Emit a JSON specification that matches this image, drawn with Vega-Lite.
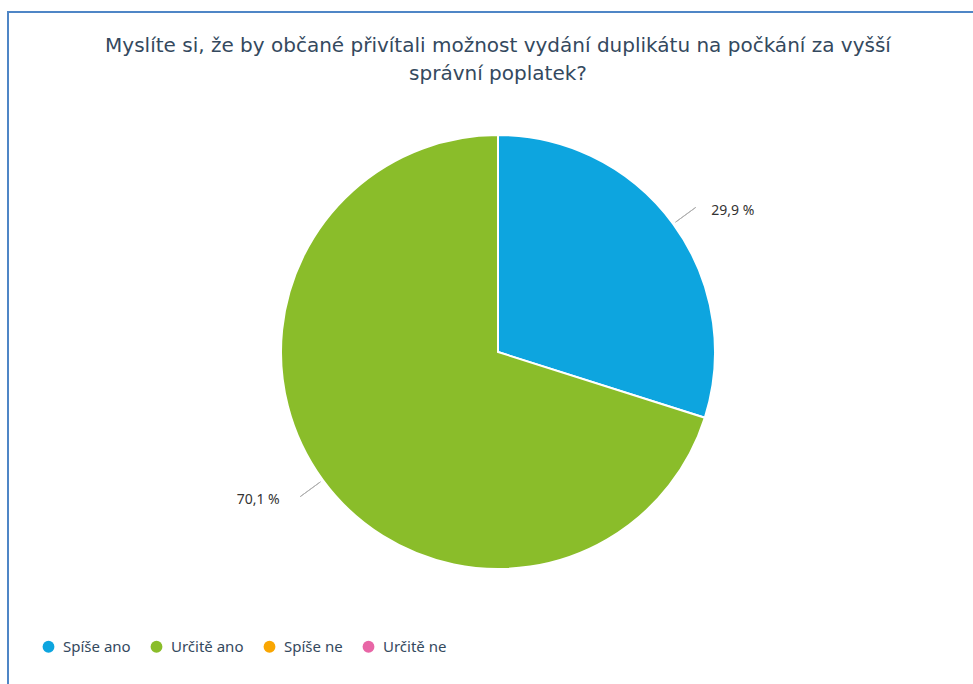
{
  "$schema": "https://vega.github.io/schema/vega-lite/v6.json",
  "autosize": {"type": "none"},
  "padding": {"left": 8, "top": 12, "right": 0, "bottom": 0},
  "width": 980,
  "height": 680,
  "background": "white",
  "view": {"stroke": "#4f86c6", "strokeWidth": 2},
  "config": {
    "font": "DejaVu Sans"
  },
  "title": {
    "text": ["Myslíte si, že by občané přivítali možnost vydání duplikátu na počkání za vyšší", "správní poplatek?"],
    "font": "DejaVu Sans",
    "fontSize": 20,
    "fontWeight": "normal",
    "color": "#34495e",
    "anchor": "middle",
    "baseline": "top",
    "offset": -72,
    "lineHeight": 28
  },
  "data": {
    "values": [
      {"category": "Spíše ano", "value": 29.9},
      {"category": "Určitě ano", "value": 70.1},
      {"category": "Spíše ne", "value": 0},
      {"category": "Určitě ne", "value": 0}
    ]
  },
  "transform": [
    {"window": [{"op": "row_number", "as": "ord"}]},
    {"joinaggregate": [{"op": "sum", "field": "value", "as": "total"}]},
    {"window": [{"op": "sum", "field": "value", "as": "cum"}], "sort": [{"field": "ord"}], "frame": [null, 0]},
    {"calculate": "2*PI*(datum.cum - datum.value/2)/datum.total", "as": "mid"},
    {"calculate": "replace(format(datum.value, '.1f'), '.', ',') + ' %'", "as": "label"}
  ],
  "layer": [
    {
      "mark": {"type": "arc", "stroke": "white", "strokeWidth": 2, "outerRadius": 217},
      "encoding": {
        "theta": {"field": "value", "type": "quantitative", "stack": true},
        "order": {"field": "ord", "type": "quantitative"},
        "color": {
          "field": "category",
          "type": "nominal",
          "scale": {
            "domain": ["Spíše ano", "Určitě ano", "Spíše ne", "Určitě ne"],
            "range": ["#0da5df", "#8abd2a", "#f9a602", "#e866a6"]
          },
          "legend": {
            "title": null,
            "orient": "none",
            "legendX": 33,
            "legendY": 627,
            "direction": "horizontal",
            "columns": 4,
            "symbolType": "circle",
            "symbolSize": 140,
            "symbolStrokeWidth": 0,
            "labelFont": "Noto Sans",
            "labelFontSize": 15,
            "labelColor": "#34495e",
            "labelOffset": 7,
            "columnPadding": 18
          }
        }
      }
    },
    {
      "transform": [{"filter": "datum.value > 0"}],
      "mark": {"type": "arc", "fill": "#b0b0b0", "stroke": "#b0b0b0", "strokeWidth": 1},
      "encoding": {
        "theta": {"field": "mid", "type": "quantitative", "scale": null},
        "theta2": {"field": "mid"},
        "radius": {"value": 245},
        "radius2": {"value": 220}
      }
    },
    {
      "transform": [{"filter": "datum.value > 0 && datum.mid < PI"}],
      "mark": {"type": "text", "align": "left", "baseline": "middle", "fontSize": 14, "font": "Noto Sans", "color": "#333333", "radius": 258, "dx": 5, "dy": 11},
      "encoding": {
        "theta": {"field": "mid", "type": "quantitative", "scale": null},
        "text": {"field": "label"}
      }
    },
    {
      "transform": [{"filter": "datum.value > 0 && datum.mid >= PI"}],
      "mark": {"type": "text", "align": "right", "baseline": "middle", "fontSize": 14, "font": "Noto Sans", "color": "#333333", "radius": 258, "dx": -10, "dy": -4},
      "encoding": {
        "theta": {"field": "mid", "type": "quantitative", "scale": null},
        "text": {"field": "label"}
      }
    }
  ]
}
